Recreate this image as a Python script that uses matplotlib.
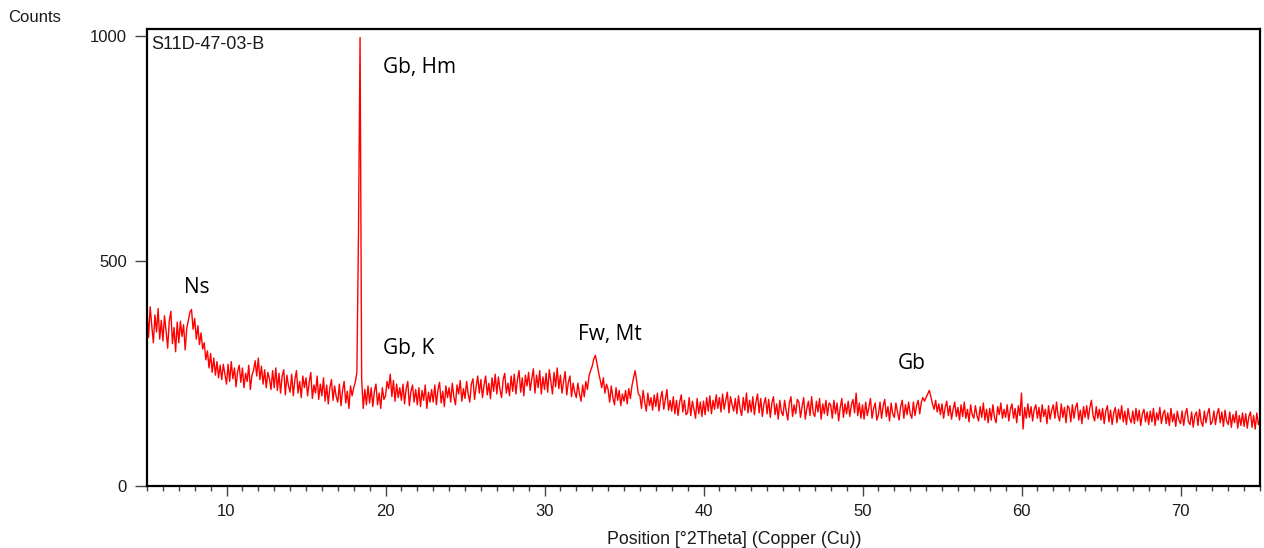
import numpy as np
import matplotlib
matplotlib.use('Agg')
import matplotlib.pyplot as plt
from matplotlib.ticker import MultipleLocator

# scan grid: 5.0 .. 75.0 deg 2theta, step 0.1
theta_start = 5.0
theta_step = 0.1

# counts, one row per degree
counts = [
    392, 330, 398, 356, 318, 380, 342, 394, 326, 368,   # 5
    322, 378, 344, 306, 366, 388, 316, 352, 298, 364,   # 6
    318, 366, 332, 358, 302, 350, 368, 386, 392, 348,   # 7
    372, 326, 356, 314, 340, 304, 318, 280, 300, 262,   # 8
    294, 252, 284, 246, 276, 240, 268, 236, 270, 248,   # 9
    226, 270, 232, 276, 238, 262, 220, 254, 268, 230,   # 10
    262, 218, 250, 232, 268, 214, 246, 256, 278, 244,   # 11
    284, 236, 266, 226, 258, 218, 252, 238, 214, 256,   # 12
    218, 262, 212, 250, 206, 244, 258, 202, 246, 222,   # 13
    208, 248, 200, 236, 256, 206, 232, 196, 244, 218,   # 14
    240, 200, 230, 252, 194, 224, 206, 244, 192, 226,   # 15
    200, 240, 188, 224, 182, 218, 236, 190, 222, 198,   # 16
    186, 226, 178, 212, 232, 184, 210, 172, 222, 200,   # 17
    218, 230, 252, 560, 997, 238, 172, 214, 180, 222,   # 18
    184, 218, 176, 210, 226, 180, 206, 172, 218, 192,   # 19
    200, 232, 216, 248, 198, 234, 188, 226, 196, 218,   # 20
    190, 226, 182, 216, 232, 178, 210, 224, 186, 214,   # 21
    180, 218, 176, 212, 190, 224, 172, 208, 186, 214,   # 22
    186, 224, 180, 214, 230, 184, 210, 176, 222, 196,   # 23
    218, 186, 228, 198, 180, 224, 204, 234, 188, 216,   # 24
    194, 232, 204, 186, 226, 238, 192, 220, 244, 206,   # 25
    236, 196, 224, 244, 202, 228, 194, 240, 210, 248,   # 26
    204, 242, 214, 196, 236, 250, 206, 228, 200, 244,   # 27
    210, 248, 204, 236, 256, 208, 240, 200, 246, 222,   # 28
    252, 212, 238, 260, 206, 246, 218, 256, 204, 242,   # 29
    214, 250, 208, 258, 232, 204, 252, 220, 262, 216,   # 30
    246, 206, 232, 254, 202, 230, 244, 198, 228, 208,   # 31
    196, 228, 204, 188, 224, 198, 232, 214, 244, 256,   # 32
    266, 282, 290, 272, 252, 236, 218, 240, 206, 226,   # 33
    214, 186, 222, 196, 180, 218, 190, 212, 178, 204,   # 34
    188, 212, 182, 216, 194, 222, 240, 256, 232, 204,   # 35
    200, 172, 212, 186, 166, 206, 178, 196, 168, 202,   # 36
    176, 206, 166, 194, 210, 170, 192, 214, 168, 190,   # 37
    166, 198, 160, 190, 156, 186, 202, 164, 190, 158,   # 38
    162, 196, 156, 188, 170, 150, 194, 160, 186, 154,   # 39
    188, 158, 196, 166, 200, 160, 190, 170, 202, 172,   # 40
    196, 164, 204, 170, 190, 208, 162, 198, 180, 166,   # 41
    194, 160, 200, 172, 156, 196, 168, 206, 162, 190,   # 42
    164, 198, 158, 186, 204, 162, 194, 154, 182, 196,   # 43
    160, 192, 152, 184, 198, 158, 182, 148, 190, 164,   # 44
    156, 190, 166, 146, 184, 198, 154, 180, 160, 192,   # 45
    186, 152, 176, 196, 148, 172, 188, 156, 198, 162,   # 46
    154, 188, 164, 194, 148, 182, 160, 190, 156, 184,   # 47
    180, 150, 190, 160, 184, 144, 174, 194, 152, 182,   # 48
    160, 188, 154, 180, 192, 162, 206, 156, 184, 150,   # 49
    180, 148, 186, 156, 174, 194, 150, 172, 184, 146,   # 50
    158, 186, 150, 178, 192, 154, 176, 144, 184, 160,   # 51
    152, 184, 164, 146, 176, 190, 150, 180, 158, 186,   # 52
    160, 150, 186, 156, 178, 190, 160, 186, 196, 188,   # 53
    196, 204, 212, 198, 182, 170, 190, 164, 182, 158,   # 54
    182, 150, 174, 188, 156, 178, 148, 170, 186, 154,   # 55
    174, 146, 180, 154, 186, 150, 170, 142, 180, 158,   # 56
    150, 178, 156, 144, 176, 152, 184, 146, 170, 140,   # 57
    172, 146, 180, 152, 140, 176, 158, 184, 150, 170,   # 58
    152, 180, 144, 170, 182, 150, 172, 140, 178, 156,   # 59
    206, 126, 174, 150, 182, 152, 176, 144, 170, 180,   # 60
    150, 174, 142, 180, 154, 170, 138, 178, 148, 168,   # 61
    180, 150, 186, 156, 144, 182, 152, 174, 140, 178,   # 62
    172, 142, 180, 150, 174, 184, 146, 168, 138, 176,   # 63
    152, 178, 148, 174, 190, 156, 144, 176, 150, 170,   # 64
    146, 172, 138, 166, 178, 142, 168, 136, 162, 174,   # 65
    140, 170, 148, 178, 142, 166, 136, 172, 150, 140,   # 66
    166, 138, 172, 144, 168, 134, 160, 170, 142, 164,   # 67
    136, 166, 142, 172, 134, 162, 146, 174, 138, 160,   # 68
    168, 138, 162, 134, 172, 142, 160, 132, 166, 146,   # 69
    138, 166, 134, 160, 172, 142, 136, 164, 130, 156,   # 70
    164, 134, 170, 142, 132, 166, 140, 160, 172, 136,   # 71
    142, 166, 136, 160, 172, 140, 164, 132, 168, 144,   # 72
    136, 164, 130, 158, 140, 166, 128, 156, 134, 162,   # 73
    132, 160, 128, 154, 164, 130, 156, 126, 162, 136,   # 74
    146,                                                # 75
]

sample_name = 'S11D-47-03-B'
phase_labels = ['Ns', 'Gb, Hm', 'Gb, K', 'Fw, Mt', 'Gb']
phase_x = [7.3, 19.85, 19.85, 32.1, 52.2]
phase_y = [440, 930, 305, 336, 271]


def main():
    theta = theta_start + theta_step * np.arange(len(counts))

    fig = plt.figure(figsize=(12.64, 5.48), dpi=100)
    ax = fig.add_axes([147 / 1264, 1 - 485.7 / 548, 1113 / 1264, 456.7 / 548])

    ax.plot(theta, counts, color='#ff0000', linewidth=1.0)

    ax.set_xlim(5, 75)
    ax.set_ylim(0, 1016)
    ax.xaxis.set_major_locator(MultipleLocator(10))
    ax.xaxis.set_minor_locator(MultipleLocator(1))
    ax.set_yticks([0, 500, 1000])

    tick_col = '#444444'
    ax.tick_params(axis='x', which='major', length=7, width=1, color=tick_col,
                   labelsize=12, labelcolor='#1a1a1a', pad=6)
    ax.tick_params(axis='x', which='minor', length=3.5, width=1, color=tick_col)
    ax.tick_params(axis='y', which='major', length=9, width=1, color=tick_col,
                   labelsize=12, labelcolor='#1a1a1a', pad=5.5)
    for lab in ax.get_xticklabels() + ax.get_yticklabels():
        lab.set_fontfamily('Liberation Sans')
    for sp in ax.spines.values():
        sp.set_linewidth(1.6)
        sp.set_color('black')

    ax.set_xlabel('Position [°2Theta] (Copper (Cu))', x=0.528, labelpad=9,
                  family='Liberation Sans', size=12.8, color='#1a1a1a')
    fig.text(8 / 1264, 1 - 18 / 548, 'Counts', ha='left', va='center',
             family='Liberation Sans', size=12, color='#1a1a1a')
    ax.text(0.004, 0.985, sample_name, transform=ax.transAxes, ha='left', va='top',
            family='Liberation Sans', size=13, color='#1a1a1a')

    for lab, x, y in zip(phase_labels, phase_x, phase_y):
        ax.text(x, y, lab, ha='left', va='center', family='Open Sans', fontsize=15)

    fig.savefig('out.png', dpi=100)
    plt.close(fig)


if __name__ == '__main__':
    main()
